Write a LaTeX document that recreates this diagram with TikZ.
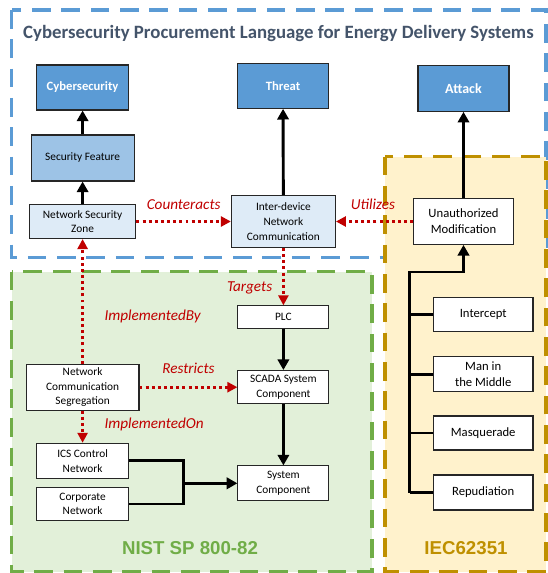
\documentclass[tikz,border=0pt]{standalone}
\usepackage{fontspec}
\setmainfont{Carlito}
\newfontfamily\stdfont{Liberation Sans}
\usepackage{xcolor}
\usetikzlibrary{arrows.meta,positioning}
\definecolor{ofblue}{HTML}{5B9BD5}
\definecolor{midblue}{HTML}{9DC3E6}
\definecolor{paleblue}{HTML}{DEEBF7}
\definecolor{ofgreen}{HTML}{70AD47}
\definecolor{greenbg}{HTML}{E2F0D9}
\definecolor{ofgold}{HTML}{BF9000}
\definecolor{goldbg}{HTML}{FFF2CC}
\definecolor{relred}{HTML}{C00000}
\definecolor{titlegray}{HTML}{44546A}
\tikzset{
	box/.style={draw=black!85,line width=0.8pt,fill=white,align=center,inner sep=1pt,font=\fontsize{8.5}{11}\selectfont},
	wh/.style 2 args={minimum width=#1*0.75pt,minimum height=#2*0.75pt},
	topbox/.style={box,fill=ofblue,text=white,font=\fontsize{9.5}{11}\selectfont\bfseries},
	rbox/.style={box,font=\fontsize{9.5}{12}\selectfont,wh={99.6}{34}},
	blk/.style={line width=2.2pt,-{Triangle[length=8pt,width=8.5pt]}},
	line/.style={line width=2.2pt,line join=miter},
	rel/.style={relred,line width=2.2pt,dash pattern=on 2.2pt off 2.4pt,-{Triangle[length=7.5pt,width=7.5pt]}},
	lbl/.style={text=relred,font=\fontsize{11.4}{13}\selectfont\itshape},
	frame/.style={line width=2.3pt,dash pattern=on 14pt off 8pt}
}
\begin{document}
\begin{tikzpicture}[x=0.75pt,y=-0.75pt]
	\useasboundingbox (0,0) rectangle (548,573);
	\draw[frame,ofblue] (11.5,10) rectangle (546,257.7);
	\draw[frame,ofgreen,fill=greenbg] (11.5,271.7) rectangle (372,571.7);
	\draw[frame,ofgold,fill=goldbg] (385,156.7) rectangle (546,571.7);
	\node[text=titlegray,font=\fontsize{14.1}{16}\selectfont\bfseries] (title) at (278.5,34) {Cybersecurity Procurement Language for Energy Delivery Systems};
	\node[text=ofgreen,font=\stdfont\fontsize{14}{16}\selectfont\bfseries] (nist) at (190,548) {NIST SP 800-82};
	\node[text=ofgold,font=\stdfont\fontsize{14}{16}\selectfont\bfseries] (iec) at (466,548) {IEC62351};
	% ontology classes
	\node[topbox,wh={92}{45}] (cyber) at (82.6,87.5) {Cybersecurity};
	\node[topbox,wh={91}{45}] (threat) at (283,85.8) {Threat};
	\node[topbox,wh={91}{46},font=\fontsize{10.5}{12}\selectfont\bfseries] (attack) at (463.5,88.3) {Attack};
	\node[box,fill=midblue,wh={103}{46}] (secfeat) at (82.6,158) {Security Feature};
	\node[box,fill=paleblue,wh={106.6}{34}] (nsz) at (82.6,221.5) {Network Security\\Zone};
	\node[box,fill=paleblue,wh={104}{52}] (idnc) at (283.4,221.5) {Inter-device\\Network\\Communication};
	\node[rbox,wh={99.5}{45.7}] (unauth) at (463.5,221.5) {Unauthorized\\Modification};
	% NIST
	\node[box,wh={91}{22.3}] (plc) at (283.4,317) {PLC};
	\node[box,wh={112.8}{45.7}] (ncs) at (82.6,387.2) {Network\\Communication\\Segregation};
	\node[box,wh={91}{33.3}] (scada) at (283.4,387.2) {SCADA System\\Component};
	\node[box,wh={92}{35}] (ics) at (82.6,460.8) {ICS Control\\Network};
	\node[box,wh={92}{33.4}] (corp) at (82.6,504) {Corporate\\Network};
	\node[box,wh={91}{34.7}] (syscomp) at (283.4,483.3) {System\\Component};
	% IEC
	\node[rbox] (intercept) at (483.2,314.7) {Intercept};
	\node[rbox,wh={99.6}{35}] (mitm) at (483.2,374.2) {Man in\\the Middle};
	\node[rbox] (masq) at (483.2,433) {Masquerade};
	\node[rbox,wh={99.6}{35}] (repud) at (483.2,492.5) {Repudiation};
	\coordinate (merge) at (183.5,483.3);
	\coordinate (trunktop) at (409.6,272);
	\coordinate (trunkbot) at (409.6,492.5);
	% black links
	\draw[blk] (nsz) -- (secfeat);
	\draw[blk] (secfeat) -- (cyber);
	\draw[blk] (idnc) -- (threat);
	\draw[blk] (unauth) -- (attack);
	\draw[blk] (plc) -- (scada);
	\draw[blk] (scada) -- (syscomp);
	\draw[line] (ics.east) -| (merge);
	\draw[line] (corp.east) -| (merge);
	\draw[blk] (merge) -- (syscomp.west);
	\draw[blk] (trunkbot) -- (trunktop) -| (unauth.south);
	\foreach \n in {intercept,mitm,masq,repud}
		\draw[line] (\n.west) -- (\n.west -| trunktop);
	% red relations
	\draw[rel] (nsz) -- node[lbl,above=4.5pt] {Counteracts} (idnc);
	\draw[rel] (unauth) -- node[lbl,above=4.5pt,pos=0.52] {Utilizes} (idnc);
	\draw[rel] (idnc) -- node[lbl,left=4pt,pos=0.7] {Targets} (plc);
	\draw[rel] (ncs) -- node[lbl,right=12pt,pos=0.38] {ImplementedBy} (nsz);
	\draw[rel] (ncs) -- node[lbl,above=6pt] {Restricts} (scada);
	\draw[rel] (ncs) -- node[lbl,right=12pt,pos=0.42] {ImplementedOn} (ics);
\end{tikzpicture}
\end{document}
